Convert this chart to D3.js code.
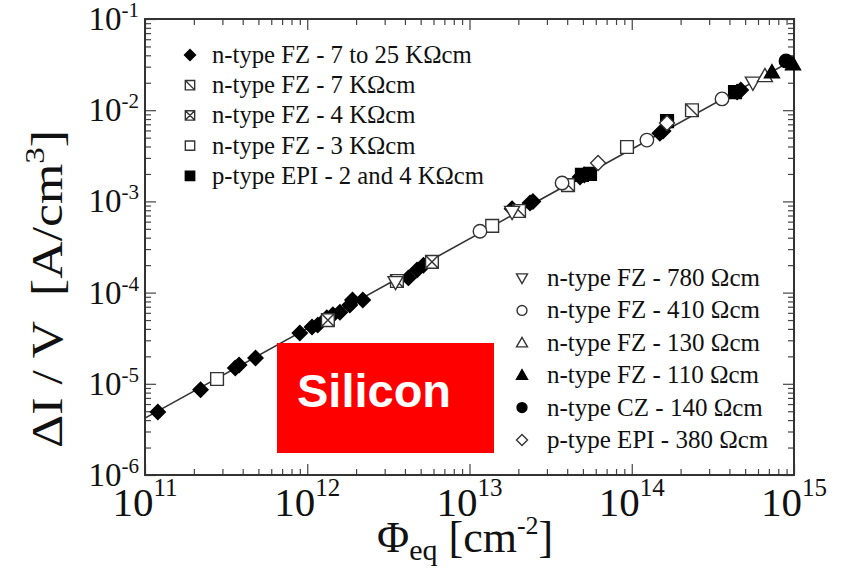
<!DOCTYPE html>
<html>
<head>
<meta charset="utf-8">
<script src="https://cdn.jsdelivr.net/npm/d3@7"></script>
<style>
  body { margin: 0; background: #fff; }
  text { font-family: "Liberation Serif", "Times New Roman", serif; fill: #111; }
</style>
</head>
<body>
<script>
// fluence Phi_eq [cm^-2] and current increase per volume [A/cm^3]
const fzHighPhi = [1.2e11, 2.2e11, 3.6e11, 3.8e11, 4.8e11, 9.0e11, 1.07e12, 1.16e12, 1.32e12, 1.44e12, 1.59e12, 1.83e12, 1.9e12, 2.2e12, 4.2e12, 4.75e12, 5.2e12, 1.83e13, 2.36e13, 2.46e13, 4.8e13, 5.1e13, 1.49e14, 1.56e14, 4.46e14, 4.7e14];
const fzHighI   = [4.9e-6, 8.6e-6, 1.49e-5, 1.61e-5, 1.92e-5, 3.6e-5, 4.2e-5, 4.4e-5, 5.3e-5, 5.7e-5, 6.1e-5, 7.3e-5, 8.3e-5, 8.3e-5, 1.45e-4, 1.77e-4, 2.0e-4, 8.3e-4, 9.6e-4, 1.0e-3, 1.85e-3, 1.95e-3, 5.6e-3, 5.9e-3, 1.58e-2, 1.67e-2];
const fz7kPhi = [3.57e12, 2.02e13, 4.05e13, 2.35e14];
const fz7kI   = [1.34e-4, 7.85e-4, 1.51e-3, 1.0e-2];
const fz4kPhi = [1.34e12, 5.87e12];
const fz4kI   = [5.0e-5, 2.17e-4];
const fz3kPhi = [2.78e11, 1.38e13, 9.35e13];
const fz3kI   = [1.13e-5, 5.4e-4, 3.95e-3];
const epiKPhi = [4.93e13, 5.53e13, 1.65e14, 4.33e14];
const epiKI   = [1.95e-3, 2.0e-3, 7.6e-3, 1.58e-2];
const fz780Phi = [3.5e12, 1.83e13, 5.58e14];
const fz780I   = [1.3e-4, 7.65e-4, 2.0e-2];
const fz410Phi = [1.16e13, 3.72e13, 1.24e14, 3.6e14];
const fz410I   = [4.7e-4, 1.59e-3, 4.7e-3, 1.33e-2];
const fz130Phi = [6.62e14];
const fz130I   = [2.37e-2];
const fz110Phi = [7.31e14, 9.86e14];
const fz110I   = [2.62e-2, 3.2e-2];
const cz140Phi = [8.93e14];
const cz140I   = [3.47e-2];
const epi380Phi = [6.2e13, 1.65e14];
const epi380I   = [2.64e-3, 7.24e-3];

// fit line end points
const fitPhi = [1e11, 1e15];
const fitI   = [4.2e-6, 3.6e-2];

const xTicks = [1e11, 1e12, 1e13, 1e14, 1e15];
const xTickExp = ["11", "12", "13", "14", "15"];
const yTicks = [1e-6, 1e-5, 1e-4, 1e-3, 1e-2, 1e-1];
const yTickExp = ["-6", "-5", "-4", "-3", "-2", "-1"];

const legendTop = ["n-type FZ - 7 to 25 K\u03A9cm", "n-type FZ - 7 K\u03A9cm", "n-type FZ - 4 K\u03A9cm", "n-type FZ - 3 K\u03A9cm", "p-type EPI - 2 and 4 K\u03A9cm"];
const legendBottom = ["n-type FZ - 780 \u03A9cm", "n-type FZ - 410 \u03A9cm", "n-type FZ - 130 \u03A9cm", "n-type FZ - 110 \u03A9cm", "n-type CZ - 140 \u03A9cm", "p-type EPI - 380 \u03A9cm"];

const series = [
  {phi: fzHighPhi, val: fzHighI, mark: "diamond"},
  {phi: fz7kPhi, val: fz7kI, mark: "sqDiag"},
  {phi: fz4kPhi, val: fz4kI, mark: "sqCross"},
  {phi: fz3kPhi, val: fz3kI, mark: "sqOpen"},
  {phi: epiKPhi, val: epiKI, mark: "sqFill"},
  {phi: fz780Phi, val: fz780I, mark: "triDown"},
  {phi: fz410Phi, val: fz410I, mark: "circOpen"},
  {phi: fz130Phi, val: fz130I, mark: "triOpen"},
  {phi: fz110Phi, val: fz110I, mark: "triFill"},
  {phi: cz140Phi, val: cz140I, mark: "circFill"},
  {phi: epi380Phi, val: epi380I, mark: "diaOpen"}
];

const W = 844, H = 569;
const pL = 145, pR = 794, pT = 19, pB = 475;

const svg = d3.select("body").append("svg")
  .attr("width", W).attr("height", H);

const x = d3.scaleLog().domain([1e11, 1e15]).range([pL, pR]);
const y = d3.scaleLog().domain([1e-6, 1e-1]).range([pB, pT]);

// minor ticks 2..9 in each decade
function minors(lo, hi) {
  const out = [];
  for (let e = lo; e < hi; e++)
    for (let m = 2; m <= 9; m++) out.push(m * Math.pow(10, e));
  return out;
}
const xMinor = minors(11, 15);
const yMinor = minors(-6, -1);

function tickAxis(axisFn, scale, vals, size, transform) {
  svg.append("g")
    .attr("transform", transform)
    .call(axisFn(scale).tickValues(vals).tickSizeInner(size).tickSizeOuter(0).tickFormat(""))
    .call(g => g.select(".domain").remove())
    .call(g => g.selectAll("line").attr("stroke", "#444").attr("stroke-width", 1.2));
}
tickAxis(d3.axisBottom, x, xTicks, -11, `translate(0,${pB})`);
tickAxis(d3.axisBottom, x, xMinor, -6, `translate(0,${pB})`);
tickAxis(d3.axisTop, x, xTicks, -11, `translate(0,${pT})`);
tickAxis(d3.axisTop, x, xMinor, -6, `translate(0,${pT})`);
tickAxis(d3.axisLeft, y, yTicks, -11, `translate(${pL},0)`);
tickAxis(d3.axisLeft, y, yMinor, -6, `translate(${pL},0)`);
tickAxis(d3.axisRight, y, yTicks, -11, `translate(${pR},0)`);
tickAxis(d3.axisRight, y, yMinor, -6, `translate(${pR},0)`);

svg.append("rect")
  .attr("x", pL).attr("y", pT)
  .attr("width", pR - pL).attr("height", pB - pT)
  .attr("fill", "none").attr("stroke", "#333").attr("stroke-width", 2);

// tick labels
xTicks.forEach((t, i) => {
  const tx = svg.append("text")
    .attr("x", x(t)).attr("y", pB + 41)
    .attr("text-anchor", "middle")
    .style("font-size", "41px");
  tx.append("tspan").text("10");
  tx.append("tspan").attr("dy", -20).style("font-size", "25px").text(xTickExp[i]);
});
yTicks.forEach((t, i) => {
  const ty = svg.append("text")
    .attr("x", pL - 6).attr("y", y(t) + 11)
    .attr("text-anchor", "end")
    .style("font-size", "33px");
  ty.append("tspan").text("10");
  ty.append("tspan").attr("dy", -13).style("font-size", "21px").text(yTickExp[i]);
});

// axis titles
const xt = svg.append("text")
  .attr("x", 377).attr("y", 552)
  .style("font-size", "44px");
xt.append("tspan").text("\u03A6");
xt.append("tspan").attr("dy", 8).style("font-size", "30px").text("eq");
xt.append("tspan").attr("dy", -8).text(" [cm");
xt.append("tspan").attr("dy", -18).style("font-size", "26px").text("-2");
xt.append("tspan").attr("dy", 18).text("]");

const yt = svg.append("text")
  .attr("transform", "translate(62,448) rotate(-90)")
  .attr("textLength", 318).attr("lengthAdjust", "spacingAndGlyphs")
  .style("white-space", "pre")
  .style("font-size", "44px");
yt.append("tspan").text("\u0394I / V  [A/cm");
yt.append("tspan").attr("dy", -18).style("font-size", "28px").text("3");
yt.append("tspan").attr("dy", 18).text("]");

// marker shapes
function markPath(kind, r) {
  const p = d3.path();
  if (kind === "diamond" || kind === "diaOpen") {
    p.moveTo(0, -r); p.lineTo(r, 0); p.lineTo(0, r); p.lineTo(-r, 0); p.closePath();
  } else if (kind.startsWith("sq")) {
    const s = r * 0.85;
    p.rect(-s, -s, 2 * s, 2 * s);
    if (kind === "sqDiag" || kind === "sqCross") { p.moveTo(-s, -s); p.lineTo(s, s); }
    if (kind === "sqCross") { p.moveTo(s, -s); p.lineTo(-s, s); }
  } else if (kind.startsWith("circ")) {
    const c = r * 0.9;
    p.moveTo(c, 0); p.arc(0, 0, c, 0, 2 * Math.PI);
  } else if (kind === "triDown") {
    p.moveTo(-r, -r * 0.75); p.lineTo(r, -r * 0.75); p.lineTo(0, r); p.closePath();
  } else {
    p.moveTo(-r, r * 0.75); p.lineTo(r, r * 0.75); p.lineTo(0, -r); p.closePath();
  }
  return p.toString();
}
const filled = {diamond: true, sqFill: true, triFill: true, circFill: true};
function drawMark(g, kind, r) {
  g.append("path")
    .attr("d", markPath(kind, r))
    .attr("fill", filled[kind] ? "#000" : "#fff")
    .attr("stroke", filled[kind] ? "#000" : "#333")
    .attr("stroke-width", 1.4);
}

// fit line
svg.append("path")
  .datum(d3.zip(fitPhi, fitI))
  .attr("d", d3.line().x(d => x(d[0])).y(d => y(d[1])))
  .attr("fill", "none").attr("stroke", "#333").attr("stroke-width", 1.6);

// data
series.forEach(s => {
  s.phi.forEach((p, i) => {
    const g = svg.append("g").attr("transform", `translate(${x(p)},${y(s.val[i])})`);
    drawMark(g, s.mark, 7.5);
  });
});

// legends
const topKinds = ["diamond", "sqDiag", "sqCross", "sqOpen", "sqFill"];
legendTop.forEach((t, i) => {
  const ry = 55 + i * 30.2;
  drawMark(svg.append("g").attr("transform", `translate(190,${ry})`), topKinds[i], 5.5);
  svg.append("text").attr("x", 212).attr("y", ry + 8).style("font-size", "24.7px").text(t);
});
const botKinds = ["triDown", "circOpen", "triOpen", "triFill", "circFill", "diaOpen"];
legendBottom.forEach((t, i) => {
  const ry = 278 + i * 32.4;
  drawMark(svg.append("g").attr("transform", `translate(522,${ry})`), botKinds[i], 5.5);
  svg.append("text").attr("x", 547).attr("y", ry + 8).style("font-size", "25px").text(t);
});

// label box
svg.append("rect")
  .attr("x", 277).attr("y", 343).attr("width", 217).attr("height", 110)
  .attr("fill", "#ff0000");
svg.append("text")
  .attr("x", 297).attr("y", 407)
  .style("font-family", "'Liberation Sans', Arial, sans-serif")
  .style("font-weight", "bold").style("font-size", "47px").style("fill", "#fff")
  .text("Silicon");
</script>
</body>
</html>
